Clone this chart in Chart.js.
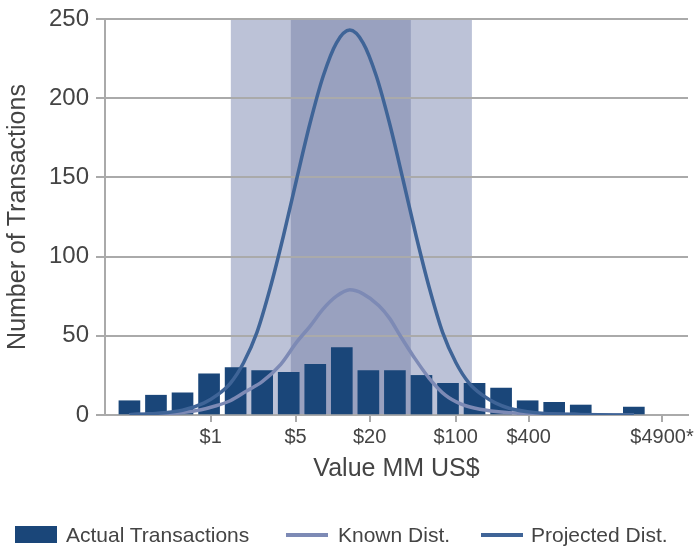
<!DOCTYPE html>
<html>
<head>
<meta charset="utf-8">
<script src="https://cdn.jsdelivr.net/npm/chart.js@4.4.1/dist/chart.umd.min.js"></script>
<style>
  body { margin: 0; background: #fff; }
  #wrap { position: relative; width: 694px; height: 550px; font-family: "Liberation Sans", Arial, sans-serif; }
  #legend { position: absolute; left: 0; top: 524px; width: 694px; height: 22px; font-size: 21px; color: #444; }
  #legend .mk { position: absolute; }
  #legend .tx { position: absolute; top: 0; line-height: 22px; white-space: nowrap; }
</style>
</head>
<body>
<div id="wrap">
  <canvas id="grafico" width="694" height="550"></canvas>
  <div id="legend"></div>
</div>
<script>
// bar slots along the x axis (slot 19 is empty)
const barPos = [1, 2, 3, 4, 5, 6, 7, 8, 9, 10, 11, 12, 13, 14, 15, 16, 17, 18, 19, 20];
const actualTx = [9, 12.5, 14, 26, 30, 28, 27, 32, 42.5, 28, 28, 25, 20, 20, 17, 9, 8, 6.3, null, 5];

// curves
const knownX = [1, 2, 3, 3.7, 4.2, 4.8, 5.4, 6, 6.7, 7.3, 7.8, 8.3, 8.8, 9.3, 9.8, 10.4, 10.8, 11.2, 11.7, 12.3, 12.9, 13.5, 14.2, 15.3, 16.5, 18, 20];
const knownY = [0.2, 0.6, 1.6, 3.3, 5.5, 9, 15, 21, 32, 46, 56, 67, 75, 79, 76.5, 69, 61, 50, 37, 23, 12.5, 6.8, 3.6, 1.5, 0.6, 0.2, 0];

const projX = [1, 2, 3, 3.8, 4.3, 4.8, 5.3, 5.8, 6.3, 6.8, 7.3, 7.8, 8.3, 8.8, 9.3, 9.8, 10.3, 10.8, 11.3, 11.8, 12.3, 12.8, 13.3, 13.8, 14.3, 14.8, 15.3, 16.3, 17.5, 20];
const projY = [0.2, 1, 3, 7.5, 12.5, 20, 33, 52, 80, 113, 149, 184, 214, 235, 243, 235, 214, 184, 149, 113, 80, 52, 33, 20, 12.5, 7.5, 4.3, 1.5, 0.4, 0];

// x axis tick marks
const tickPos = [4.06, 7.26, 10.05, 13.29, 16.04, 21.06];
const tickLabels = ['$1', '$5', '$20', '$100', '$400', '$4900*'];

// shaded ranges
const outerBand = [4.82, 13.90];
const innerBand = [7.08, 11.60];

const colBar = '#1a4679';
const colKnown = '#7d8ab5';
const colProj = '#3f6497';
const gris = '#aaaaaa';
const texto = '#444444';

Chart.defaults.font.family = '"Liberation Sans", Arial, sans-serif';

const bandas = {
  id: 'bandas',
  beforeDraw(chart) {
    const { ctx, scales: { x, y } } = chart;
    const top = y.getPixelForValue(250);
    const bottom = y.getPixelForValue(0);
    ctx.save();
    ctx.fillStyle = '#bcc2d7';
    ctx.fillRect(x.getPixelForValue(outerBand[0]), top,
      x.getPixelForValue(outerBand[1]) - x.getPixelForValue(outerBand[0]), bottom - top);
    ctx.fillStyle = '#99a1bf';
    ctx.fillRect(x.getPixelForValue(innerBand[0]), top,
      x.getPixelForValue(innerBand[1]) - x.getPixelForValue(innerBand[0]), bottom - top);
    ctx.restore();
  }
};

const chart = new Chart(document.getElementById('grafico'), {
  type: 'bar',
  data: {
    datasets: [
      {
        type: 'line',
        label: 'Projected Dist.',
        data: projX.map((x, i) => ({ x, y: projY[i] })),
        borderColor: colProj,
        borderWidth: 3.5,
        pointRadius: 0,
        cubicInterpolationMode: 'monotone',
        order: 1
      },
      {
        type: 'line',
        label: 'Known Dist.',
        data: knownX.map((x, i) => ({ x, y: knownY[i] })),
        borderColor: colKnown,
        borderWidth: 3.5,
        pointRadius: 0,
        cubicInterpolationMode: 'monotone',
        order: 2
      },
      {
        type: 'bar',
        label: 'Actual Transactions',
        data: barPos.map((x, i) => ({ x, y: actualTx[i] })),
        backgroundColor: colBar,
        barThickness: 21,
        order: 3
      }
    ]
  },
  options: {
    responsive: false,
    animation: false,
    devicePixelRatio: 1,
    layout: { padding: { top: 19, right: 6, bottom: 60, left: 0 } },
    plugins: { legend: { display: false }, tooltip: { enabled: false } },
    scales: {
      x: {
        type: 'linear',
        min: 0.08,
        max: 22.04,
        offset: false,
        afterBuildTicks: s => { s.ticks = tickPos.map(v => ({ value: v })); },
        afterFit: s => { s.height = 75; s.paddingLeft = 0; s.paddingRight = 0; },
        ticks: {
          callback: (v, i) => tickLabels[i],
          autoSkip: false,
          maxRotation: 0,
          font: { size: 20 },
          color: texto,
          padding: 3
        },
        grid: { drawOnChartArea: false, offset: false, color: gris, lineWidth: 2, tickLength: 7 },
        border: { color: gris, width: 2 },
        title: { display: true, text: 'Value MM US$', font: { size: 25 }, color: texto, padding: { top: 0, bottom: 6 } }
      },
      y: {
        min: 0,
        max: 250,
        afterFit: s => { s.width = 105; s.paddingTop = 0; s.paddingBottom = 0; },
        ticks: { stepSize: 50, font: { size: 24 }, color: texto, padding: 7 },
        grid: { color: gris, lineWidth: 2, tickLength: 9 },
        border: { color: gris, width: 2 },
        title: { display: true, text: 'Number of Transactions', font: { size: 25 }, color: texto, padding: { top: 3, bottom: 0 } }
      }
    }
  },
  plugins: [bandas]
});

// leyenda
const leyenda = document.getElementById('legend');
const items = [
  { ds: 2, mk: 15, tx: 66, box: true },
  { ds: 1, mk: 286, tx: 338, box: false },
  { ds: 0, mk: 481, tx: 531, box: false }
];
items.forEach(it => {
  const ds = chart.data.datasets[it.ds];
  const mk = document.createElement('div');
  mk.className = 'mk';
  if (it.box) {
    mk.style.cssText = `left:${it.mk}px;top:2px;width:42px;height:17px;background:${ds.backgroundColor}`;
  } else {
    mk.style.cssText = `left:${it.mk}px;top:9px;width:42px;height:4px;background:${ds.borderColor}`;
  }
  const tx = document.createElement('div');
  tx.className = 'tx';
  tx.style.left = it.tx + 'px';
  tx.textContent = ds.label;
  leyenda.appendChild(mk);
  leyenda.appendChild(tx);
});
</script>
</body>
</html>
